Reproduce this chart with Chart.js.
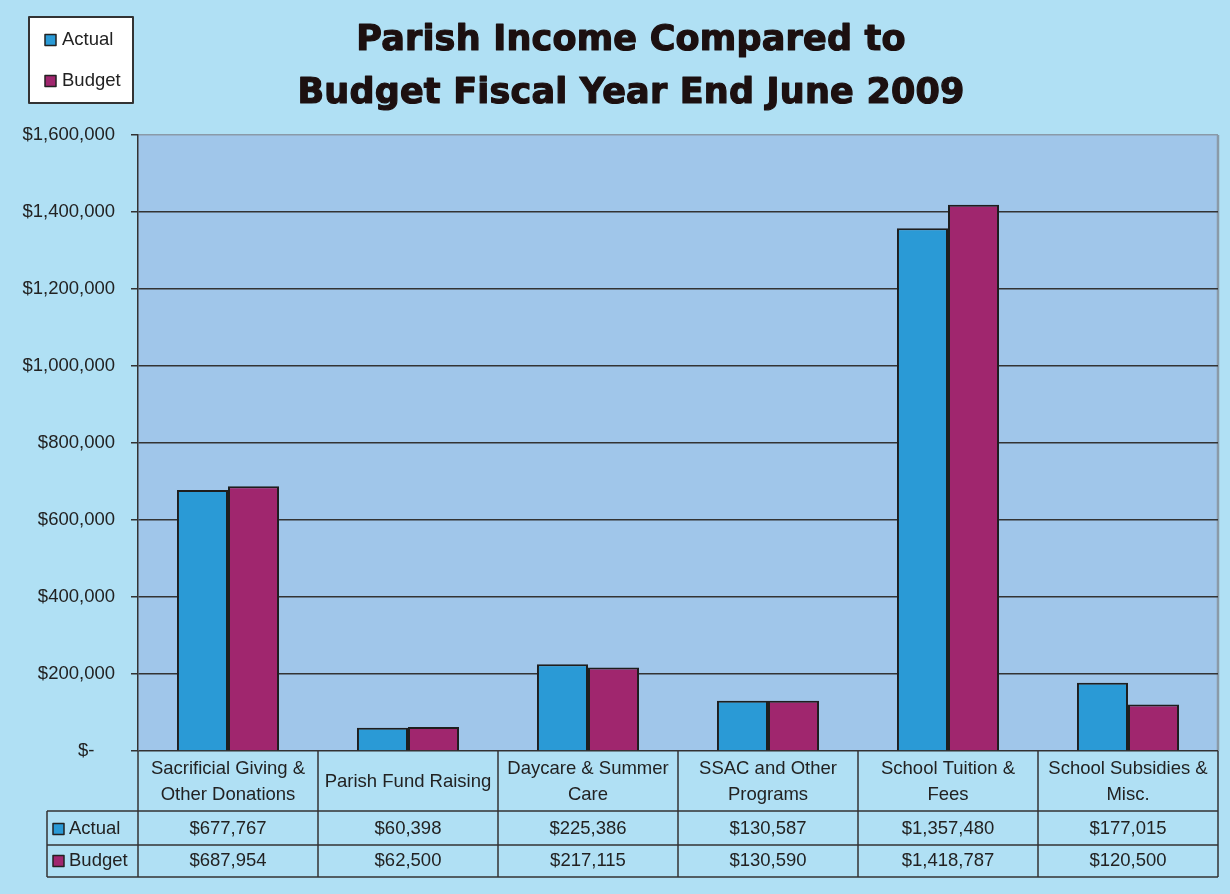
<!DOCTYPE html>
<html lang="en">
<head>
<meta charset="UTF-8">
<title>Parish Income Compared to Budget</title>
<script src="https://cdn.jsdelivr.net/npm/chart.js"></script>
<style>
  html, body { margin: 0; padding: 0; background: #b0e0f4; }
  canvas { display: block; }
</style>
</head>
<body>
<canvas id="incomeChart" width="1230" height="894"></canvas>
<script>
  const categories = [
    ['Sacrificial Giving &', 'Other Donations'],
    ['Parish Fund Raising'],
    ['Daycare & Summer', 'Care'],
    ['SSAC and Other', 'Programs'],
    ['School Tuition &', 'Fees'],
    ['School Subsidies &', 'Misc.']
  ];
  const actual = [677767, 60398, 225386, 130587, 1357480, 177015];
  const budget = [687954, 62500, 217115, 130590, 1418787, 120500];
  const seriesNames = ['Actual', 'Budget'];
  const titleLines = ['Parish Income Compared to', 'Budget Fiscal Year End June 2009'];
  const yMax = 1600000;
  const yStep = 200000;

  const FONT = 'Arial, "Liberation Sans", sans-serif';
  const TEXT = '#222';
  const fmt = v => '$' + v.toLocaleString('en-US');

  // background, plot area, title, legend box and the data table under the plot
  const decor = {
    id: 'decor',
    beforeDraw(chart) {
      const { ctx, chartArea: a } = chart;
      ctx.save();
      ctx.fillStyle = '#b0e0f4';
      ctx.fillRect(0, 0, chart.width, chart.height);
      ctx.fillStyle = '#a0c6ea';
      ctx.fillRect(a.left, a.top, a.right - a.left, a.bottom - a.top);
      ctx.strokeStyle = '#8a9aa8';
      ctx.lineWidth = 2.5;
      ctx.beginPath();
      ctx.moveTo(a.right, a.top);
      ctx.lineTo(a.right, a.bottom);
      ctx.stroke();
      ctx.restore();
    },
    afterDraw(chart) {
      const { ctx, chartArea: a } = chart;
      const x = chart.scales.x;
      const sets = chart.data.datasets;
      const n = categories.length;
      const w = (a.right - a.left) / n;
      const row1 = a.bottom + 60, row2 = row1 + 34, row3 = row2 + 32;
      const keyLeft = 47;

      ctx.save();
      // title (heavy, a bit spaced like the original)
      ctx.fillStyle = '#1c1010';
      ctx.strokeStyle = '#1c1010';
      ctx.lineWidth = 1.2;
      ctx.lineJoin = 'round';
      ctx.font = 'bold 35px "DejaVu Sans", sans-serif';
      ctx.letterSpacing = '0.2px';
      ctx.textAlign = 'center';
      ctx.textBaseline = 'alphabetic';
      [[titleLines[0], 50], [titleLines[1], 103]].forEach(([t, y]) => {
        ctx.fillText(t, 631, y);
        ctx.strokeText(t, 631, y);
      });
      ctx.letterSpacing = '0px';

      // legend box
      ctx.fillStyle = '#fff';
      ctx.fillRect(29, 17, 104, 86);
      ctx.strokeStyle = '#333';
      ctx.lineWidth = 2;
      ctx.strokeRect(29, 17, 104, 86);
      ctx.font = '18.5px ' + FONT;
      ctx.textAlign = 'left';
      ctx.textBaseline = 'middle';
      ctx.lineWidth = 1.5;
      [40, 81].forEach((cy, k) => {
        ctx.fillStyle = sets[k].backgroundColor;
        ctx.fillRect(45, cy - 5.5, 11, 11);
        ctx.strokeStyle = '#222';
        ctx.strokeRect(45, cy - 5.5, 11, 11);
        ctx.fillStyle = TEXT;
        ctx.fillText(sets[k].label, 62, cy);
      });

      // table grid
      ctx.strokeStyle = '#333';
      ctx.lineWidth = 1.5;
      ctx.beginPath();
      [row1, row2, row3].forEach(y => {
        ctx.moveTo(keyLeft, y);
        ctx.lineTo(a.right, y);
      });
      for (let i = 0; i <= n; i++) {
        const bx = a.left + i * w;
        ctx.moveTo(bx, a.bottom);
        ctx.lineTo(bx, row3);
      }
      ctx.moveTo(keyLeft, row1);
      ctx.lineTo(keyLeft, row3);
      ctx.stroke();

      // category labels and values
      ctx.fillStyle = TEXT;
      ctx.textAlign = 'center';
      const headMid = (a.bottom + row1) / 2 + 1;
      const rowMids = [(row1 + row2) / 2 + 1, (row2 + row3) / 2];
      categories.forEach((lines, i) => {
        const cx = x.getPixelForValue(i);
        lines.forEach((t, j) => {
          ctx.fillText(t, cx, headMid + (j - (lines.length - 1) / 2) * 26);
        });
        sets.forEach((s, k) => ctx.fillText(fmt(s.data[i]), cx, rowMids[k]));
      });

      // series keys in the table
      ctx.textAlign = 'left';
      sets.forEach((s, k) => {
        const cy = rowMids[k];
        ctx.fillStyle = s.backgroundColor;
        ctx.fillRect(53, cy - 5.5, 11, 11);
        ctx.strokeStyle = '#222';
        ctx.strokeRect(53, cy - 5.5, 11, 11);
        ctx.fillStyle = TEXT;
        ctx.fillText(s.label, 69, cy);
      });
      ctx.restore();
    }
  };

  const ctx = document.getElementById('incomeChart').getContext('2d');
  new Chart(ctx, {
    type: 'bar',
    data: {
      labels: categories,
      datasets: [
        {
          label: seriesNames[0],
          data: actual,
          backgroundColor: '#2a9ad6',
          borderColor: '#1e1e1e',
          borderWidth: 2,
          categoryPercentage: 0.567,
          barPercentage: 1
        },
        {
          label: seriesNames[1],
          data: budget,
          backgroundColor: '#a0266e',
          borderColor: '#1e1e1e',
          borderWidth: 2,
          categoryPercentage: 0.567,
          barPercentage: 1
        }
      ]
    },
    options: {
      responsive: false,
      animation: false,
      layout: { padding: { top: 135, bottom: 143, left: 0, right: 12 } },
      plugins: {
        legend: { display: false },
        title: { display: false },
        tooltip: { enabled: false }
      },
      scales: {
        x: { display: false },
        y: {
          min: 0,
          max: yMax,
          afterFit: s => { s.width = 138; },
          ticks: {
            stepSize: yStep,
            padding: 16,
            color: TEXT,
            font: { family: FONT, size: 18.5 },
            callback: v => v === 0 ? '$-    ' : fmt(v)
          },
          grid: {
            color: c => c.tick && c.tick.value === yMax ? '#8a9aa8' : '#333',
            lineWidth: 1.5,
            tickLength: 7,
            tickColor: '#333'
          },
          border: { color: '#333', width: 1.5 }
        }
      }
    },
    plugins: [decor]
  });
</script>
</body>
</html>
